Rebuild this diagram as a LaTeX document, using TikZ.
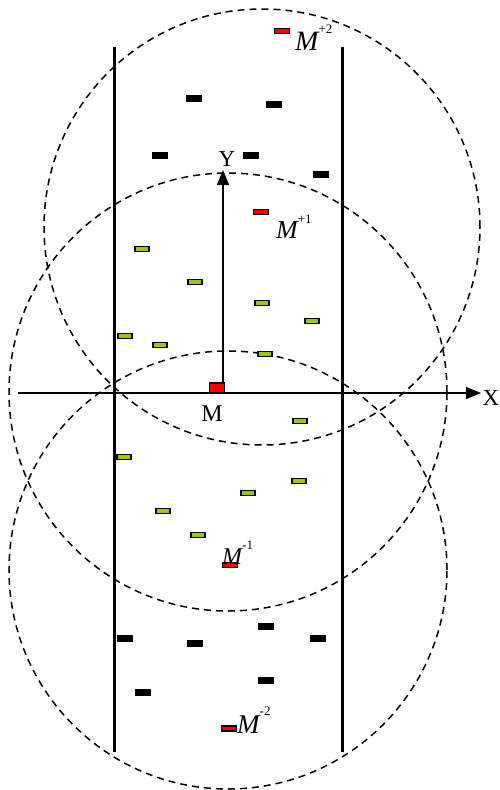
\documentclass[tikz,border=0pt]{standalone}
\usepackage{fontspec}
\setmainfont{Liberation Serif}
\usetikzlibrary{arrows.meta}
\definecolor{vgreen}{RGB}{153,204,0}
\newcommand\mysup[2]{\raisebox{#1}{\fontsize{13}{13}\selectfont\upshape #2}}
\tikzset{
  blk/.style={fill=black, draw=none, minimum width=16pt, minimum height=7pt, inner sep=0pt},
  grn/.style={fill=vgreen, draw=black, line width=1.3pt, minimum width=14pt, minimum height=5pt, inner sep=0pt},
  redbox/.style={fill=red, draw=black, line width=1.3pt, minimum width=15pt, minimum height=5pt, inner sep=0pt},
  zone/.style={dash pattern=on 7pt off 5pt, line width=1.5pt},
  wall/.style={line width=3pt},
  axis/.style={line width=1.4pt, -{Triangle[length=15pt,width=12pt]}},
  lab/.style={font=\fontsize{23}{23}\selectfont, inner sep=0pt},
  mlab/.style={font=\fontsize{28}{28}\selectfont\itshape, inner sep=0pt, anchor=base west}
}
\begin{document}
\begin{tikzpicture}[x=1pt,y=-1pt]
\useasboundingbox (0,0) rectangle (500,790);
% zones
\draw[zone] (262,227) circle (218pt);
\draw[zone] (228,392) circle (219pt);
\draw[zone] (228,570) circle (219pt);
% road walls
\coordinate (wl1) at (114,47); \coordinate (wl2) at (114,752);
\coordinate (wr1) at (342,47); \coordinate (wr2) at (342,752);
\draw[wall] (wl1) -- (wl2);
\draw[wall] (wr1) -- (wr2);
% axes
\coordinate (xs) at (18,393); \coordinate (xe) at (481,393);
\coordinate (o) at (223,393); \coordinate (ye) at (223,170);
\draw[axis] (xs) -- (xe);
\draw[axis] (o) -- (ye);
\node[lab] (xl) at (491,398) {X};
\node[lab] (yl) at (227,159) {Y};
% black vehicles
\node[blk] (b1) at (194,98) {};
\node[blk] (b2) at (274,104) {};
\node[blk] (b3) at (160,155) {};
\node[blk] (b4) at (251,155) {};
\node[blk] (b5) at (321,174) {};
\node[blk] (b6) at (266,626) {};
\node[blk] (b7) at (125,638) {};
\node[blk] (b8) at (195,643) {};
\node[blk] (b9) at (318,638) {};
\node[blk] (b10) at (266,680) {};
\node[blk] (b11) at (143,692) {};
% green vehicles
\node[grn] (g1) at (142,249) {};
\node[grn] (g2) at (195,282) {};
\node[grn] (g3) at (262,303) {};
\node[grn] (g4) at (312,321) {};
\node[grn] (g5) at (125,336) {};
\node[grn] (g6) at (160,345) {};
\node[grn] (g7) at (265,354) {};
\node[grn] (g8) at (300,421) {};
\node[grn] (g9) at (124,457) {};
\node[grn] (g10) at (299,481) {};
\node[grn] (g11) at (248,493) {};
\node[grn] (g12) at (163,511) {};
\node[grn] (g13) at (198,535) {};
% red vehicles
\node[redbox] (r2) at (282,31) {};
\node[redbox] (r1) at (261,212) {};
\node[redbox] (rm1) at (230,565) {};
\node[redbox] (rm2) at (229,728.5) {};
\node[fill=red, draw=black, line width=1.2pt, minimum width=15pt, minimum height=10pt, inner sep=0pt] (m) at (217,388) {};
% labels
\node[lab, font=\fontsize{24}{24}\selectfont] (ml) at (212,414) {M};
\node[mlab] (l2) at (295,50) {M\mysup{17pt}{+2}};
\node[mlab, font=\fontsize{26}{26}\selectfont\itshape] (l1) at (276,238) {M\mysup{15pt}{+1}};
\node[mlab, font=\fontsize{24}{24}\selectfont\itshape] (lm1) at (222,564) {M\mysup{15pt}{-1}};
\node[mlab, font=\fontsize{27}{27}\selectfont\itshape] (lm2) at (237,733) {M\mysup{18pt}{-2}};
\end{tikzpicture}
\end{document}
